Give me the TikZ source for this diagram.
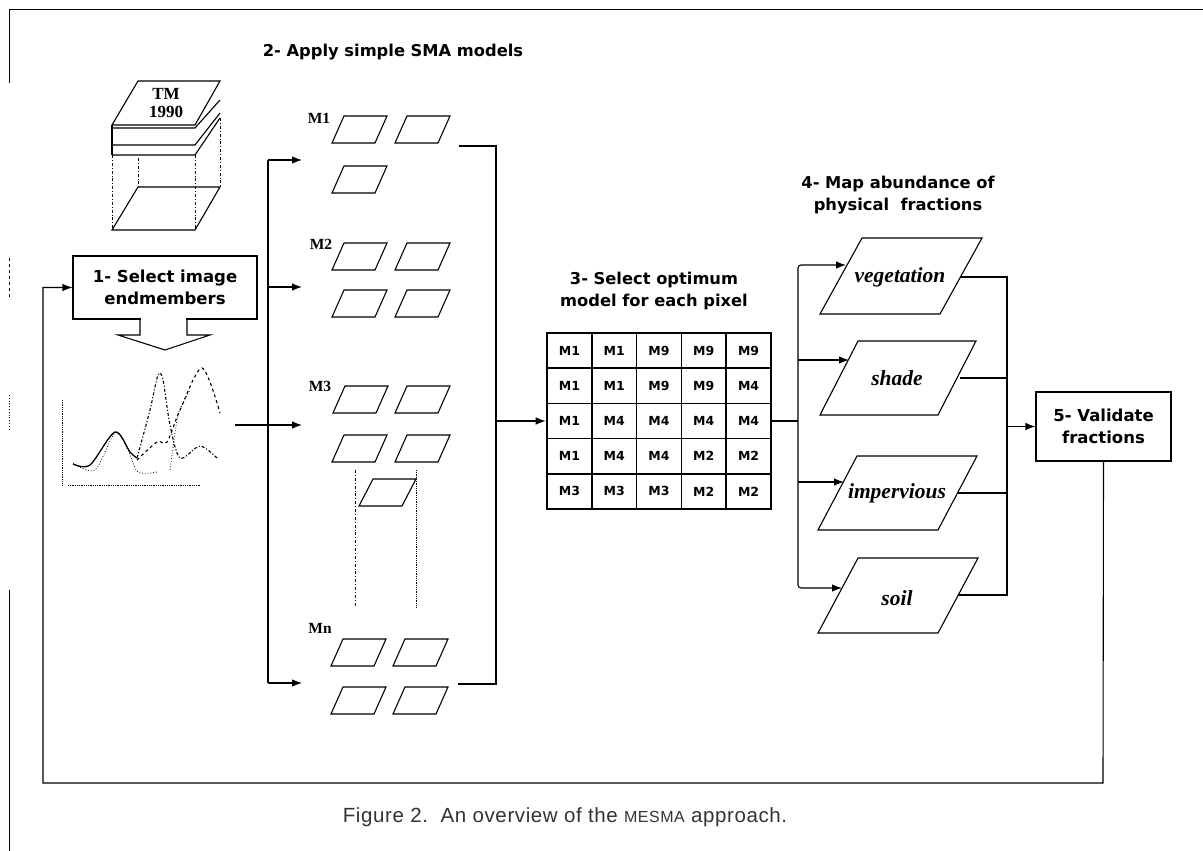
\documentclass[tikz,border=0pt]{standalone}
\usepackage{fontspec}
\setmainfont{Liberation Serif}
\newfontfamily\ttlfont{DejaVu Sans}
\newfontfamily\cellfont{DejaVu Sans}
\newfontfamily\capfont[LetterSpace=3]{Liberation Sans}
\usetikzlibrary{arrows.meta}
\newcommand{\pgm}[5]{\draw[ln] (#1,#2) -- ++(#3,0) -- ++(#5,-#4) -- ++(-#3,0) -- cycle;}
\begin{document}
\begin{tikzpicture}[x=1pt,y=-1pt,
  ln/.style={line width=1.1pt},
  thin line/.style={line width=0.8pt},
  arr/.style={ln,-{Latex[length=10pt,width=7.5pt]}},
  ttl/.style={font=\ttlfont\bfseries\fontsize{16.3}{22}\selectfont, align=center, inner sep=0},
  mlab/.style={font=\bfseries\fontsize{15.5}{15}\selectfont, inner sep=0},
  frac/.style={font=\bfseries\itshape\fontsize{21.5}{21}\selectfont, inner sep=0},
  cell/.style={font=\cellfont\bfseries\fontsize{12.5}{12}\selectfont, inner sep=0},
  stepbox/.style={draw, ln, inner sep=0, align=center, font=\ttlfont\bfseries\fontsize{16.5}{22}\selectfont},
]
\useasboundingbox (0,0) rectangle (1203,851);
\fill[white] (0,0) rectangle (1203,851);

% frame
\draw[thin line] (9,83) -- (9,9) -- (1203,9);
\draw[thin line] (9,590) -- (9,851);
\draw[thin line, dashed] (9,258) -- (9,300);
\draw[thin line, dotted] (9,395) -- (9,430);

% titles
\node[ttl] (t2) at (393,52) {2- Apply simple SMA models};
\node[ttl] (t3) at (654,291) {3- Select optimum\\model for each pixel};
\node[ttl] (t4) at (898,195) {4- Map abundance of\\physical\ \ fractions};

% TM stack
\draw[ln] (112,125) -- (195,125) -- (220,81) -- (138,81) -- cycle;
\node[font=\bfseries\fontsize{17}{17}\selectfont, align=center, inner sep=0] (tm) at (166,103) {TM\\[1pt]1990};
\draw[ln] (112,128) -- (195,128) -- (220,100);
\draw[ln] (112,145) -- (195,145) -- (220,113);
\draw[ln] (112,155) -- (195,155) -- (220,118);
\draw[ln] (112,125) -- (112,155);
\draw[thin line, dash dot] (112,155) -- (112,230);
\draw[thin line, dash dot] (195,155) -- (195,230);
\draw[thin line, dash dot] (220,118) -- (220,187);
\draw[thin line, dash dot] (138,158) -- (138,187);
\draw[ln] (112,230) -- (195,230) -- (220,187) -- (138,187) -- cycle;

% box 1
\node[stepbox, minimum width=184pt, minimum height=63pt] (sel) at (165,287.5) {1- Select image\\endmembers};
\fill[white] (140.6,316) rectangle (186.4,322);
\draw[ln] (140,319) -- (140,335) -- (118,335) -- (165,350) -- (210,335) -- (187,335) -- (187,319);

% spectrum
\draw[thin line, densely dotted] (62,400) -- (62,485);
\draw[thin line, densely dotted] (68,485) -- (200,485);
\draw[line width=1.3pt] plot[smooth] coordinates {(73,464) (90,465) (115,432) (130,452) (137,458)};
\draw[ln, dash dot] plot[smooth] coordinates {(137,458) (150,410) (158,375) (163,380) (170,425) (180,458) (200,446) (217,458)};
\draw[ln, dashed] plot[smooth] coordinates {(137,460) (157,442) (167,442) (180,410) (202,368) (220,413)};
\draw[thin line, dotted] plot[smooth] coordinates {(73,463) (95,470) (115,433) (128,450) (138,472) (157,472)};
\draw[thin line, dotted] plot[smooth] coordinates {(170,470) (177,420) (182,405) (190,390)};
\coordinate (spec) at (235,425);

% SMA distribution
\coordinate (trT) at (268,160);
\coordinate (trB) at (268,683);
\coordinate (m1in) at (302,160);
\coordinate (m2in) at (302,287);
\coordinate (m3in) at (302,425);
\coordinate (mnin) at (302,683);
\draw[ln] (trT) -- (trB);
\draw[arr] (trT) -- (m1in);
\draw[arr] (trT |- m2in) -- (m2in);
\draw[arr] (spec) -- (m3in);
\draw[arr] (trB) -- (mnin);

% model labels
\node[mlab] (lm1) at (319,118) {M1};
\node[mlab] (lm2) at (321,244) {M2};
\node[mlab] (lm3) at (320,386) {M3};
\node[mlab] (lmn) at (320,628) {Mn};

% small parallelograms
\pgm{332}{143}{43}{27}{12}
\pgm{395}{143}{43}{27}{12}
\pgm{332}{193}{43}{27}{12}
\pgm{332}{270}{43}{27}{12}
\pgm{395}{270}{43}{27}{12}
\pgm{332}{317}{43}{27}{12}
\pgm{395}{317}{43}{27}{12}
\pgm{333}{413}{43}{27}{12}
\pgm{395}{413}{43}{27}{12}
\pgm{332}{462}{43}{27}{12}
\pgm{395}{462}{43}{27}{12}
\pgm{359}{506}{43}{27}{14}
\pgm{331}{666}{43}{27}{12}
\pgm{393}{666}{43}{27}{12}
\pgm{331}{714}{43}{27}{12}
\pgm{393}{714}{43}{27}{12}
\draw[thin line, dash dot] (355,470) -- (355,607);
\draw[thin line, densely dotted] (416,470) -- (416,607);

% collector to grid
\coordinate (m1out) at (459,146);
\coordinate (mnout) at (458,684);
\coordinate (colT) at (496,146);
\coordinate (colB) at (496,684);
\draw[ln] (m1out) -- (colT) -- (colB) -- (mnout);

% grid
\node[draw, line width=2.6pt, minimum width=224pt, minimum height=176pt, inner sep=0] (grid) at (659,421) {};
\foreach \i in {1,...,4} {
  \draw[line width=1.5pt] ({547+44.8*\i},333) -- ({547+44.8*\i},509);
  \draw[line width=1.5pt] (547,{333+35.2*\i}) -- (771,{333+35.2*\i});
}
\foreach \row [count=\r] in {{M1,M1,M9,M9,M9},{M1,M1,M9,M9,M4},{M1,M4,M4,M4,M4},{M1,M4,M4,M2,M2},{M3,M3,M3,M2,M2}} {
  \foreach \lab [count=\c] in \row {
    \node[cell] (c\r\c) at ({547+44.8*(\c-0.5)}, {333+35.2*(\r-0.5)}) {\lab};
  }
}
\draw[arr] (colT |- grid.west) -- (grid.west);

% fractions
\pgm{820}{314}{120}{76}{42}
\pgm{820}{415}{118}{74}{38}
\pgm{818}{530}{120}{74}{39}
\pgm{818}{633}{120}{75}{40}
\node[frac] (veg) at (900,277) {vegetation};
\node[frac] (sha) at (897,378) {shade};
\node[frac] (imp) at (897,493) {impervious};
\node[frac] (soi) at (897,598) {soil};
\coordinate (fsplit) at (798,421);
\coordinate (vegin) at (846,265);
\coordinate (shain) at (849,360);
\coordinate (impin) at (844,482);
\coordinate (soiin) at (842,588);
\coordinate (vegout) at (960,277);
\coordinate (shaout) at (960,378);
\coordinate (impout) at (958,493);
\coordinate (soiout) at (958,595);
\coordinate (fcolT) at (1007,277);
\coordinate (fcolB) at (1007,595);
\draw[ln] (grid.east) -- (fsplit);
\draw[arr, rounded corners=3pt] (fsplit) |- (vegin);
\draw[arr] (fsplit |- shain) -- (shain);
\draw[arr] (fsplit |- impin) -- (impin);
\draw[arr, rounded corners=3pt] (fsplit) |- (soiin);
\draw[ln] (vegout) -- (fcolT) -- (fcolB) -- (soiout);
\draw[ln] (shaout) -- (shaout -| fcolT);
\draw[ln] (impout) -- (impout -| fcolT);

% validate
\node[stepbox, minimum width=135pt, minimum height=69pt] (val) at (1103.5,426.5) {5- Validate\\fractions};
\draw[arr] (fcolT |- val.west) -- (val.west);

% feedback
\coordinate (fbR) at (1103,783);
\coordinate (fbL) at (43,783);
\draw[arr] (val.south) -- (fbR) -- (fbL) -- (fbL |- sel.west) -- (sel.west);

% caption
\node[font=\capfont\fontsize{20.5}{20}\selectfont, text=black!80, inner sep=0] (cap) at (565,817) {Figure 2.\ \ An overview of the {\fontsize{16}{16}\selectfont MESMA} approach.};
\end{tikzpicture}
\end{document}
